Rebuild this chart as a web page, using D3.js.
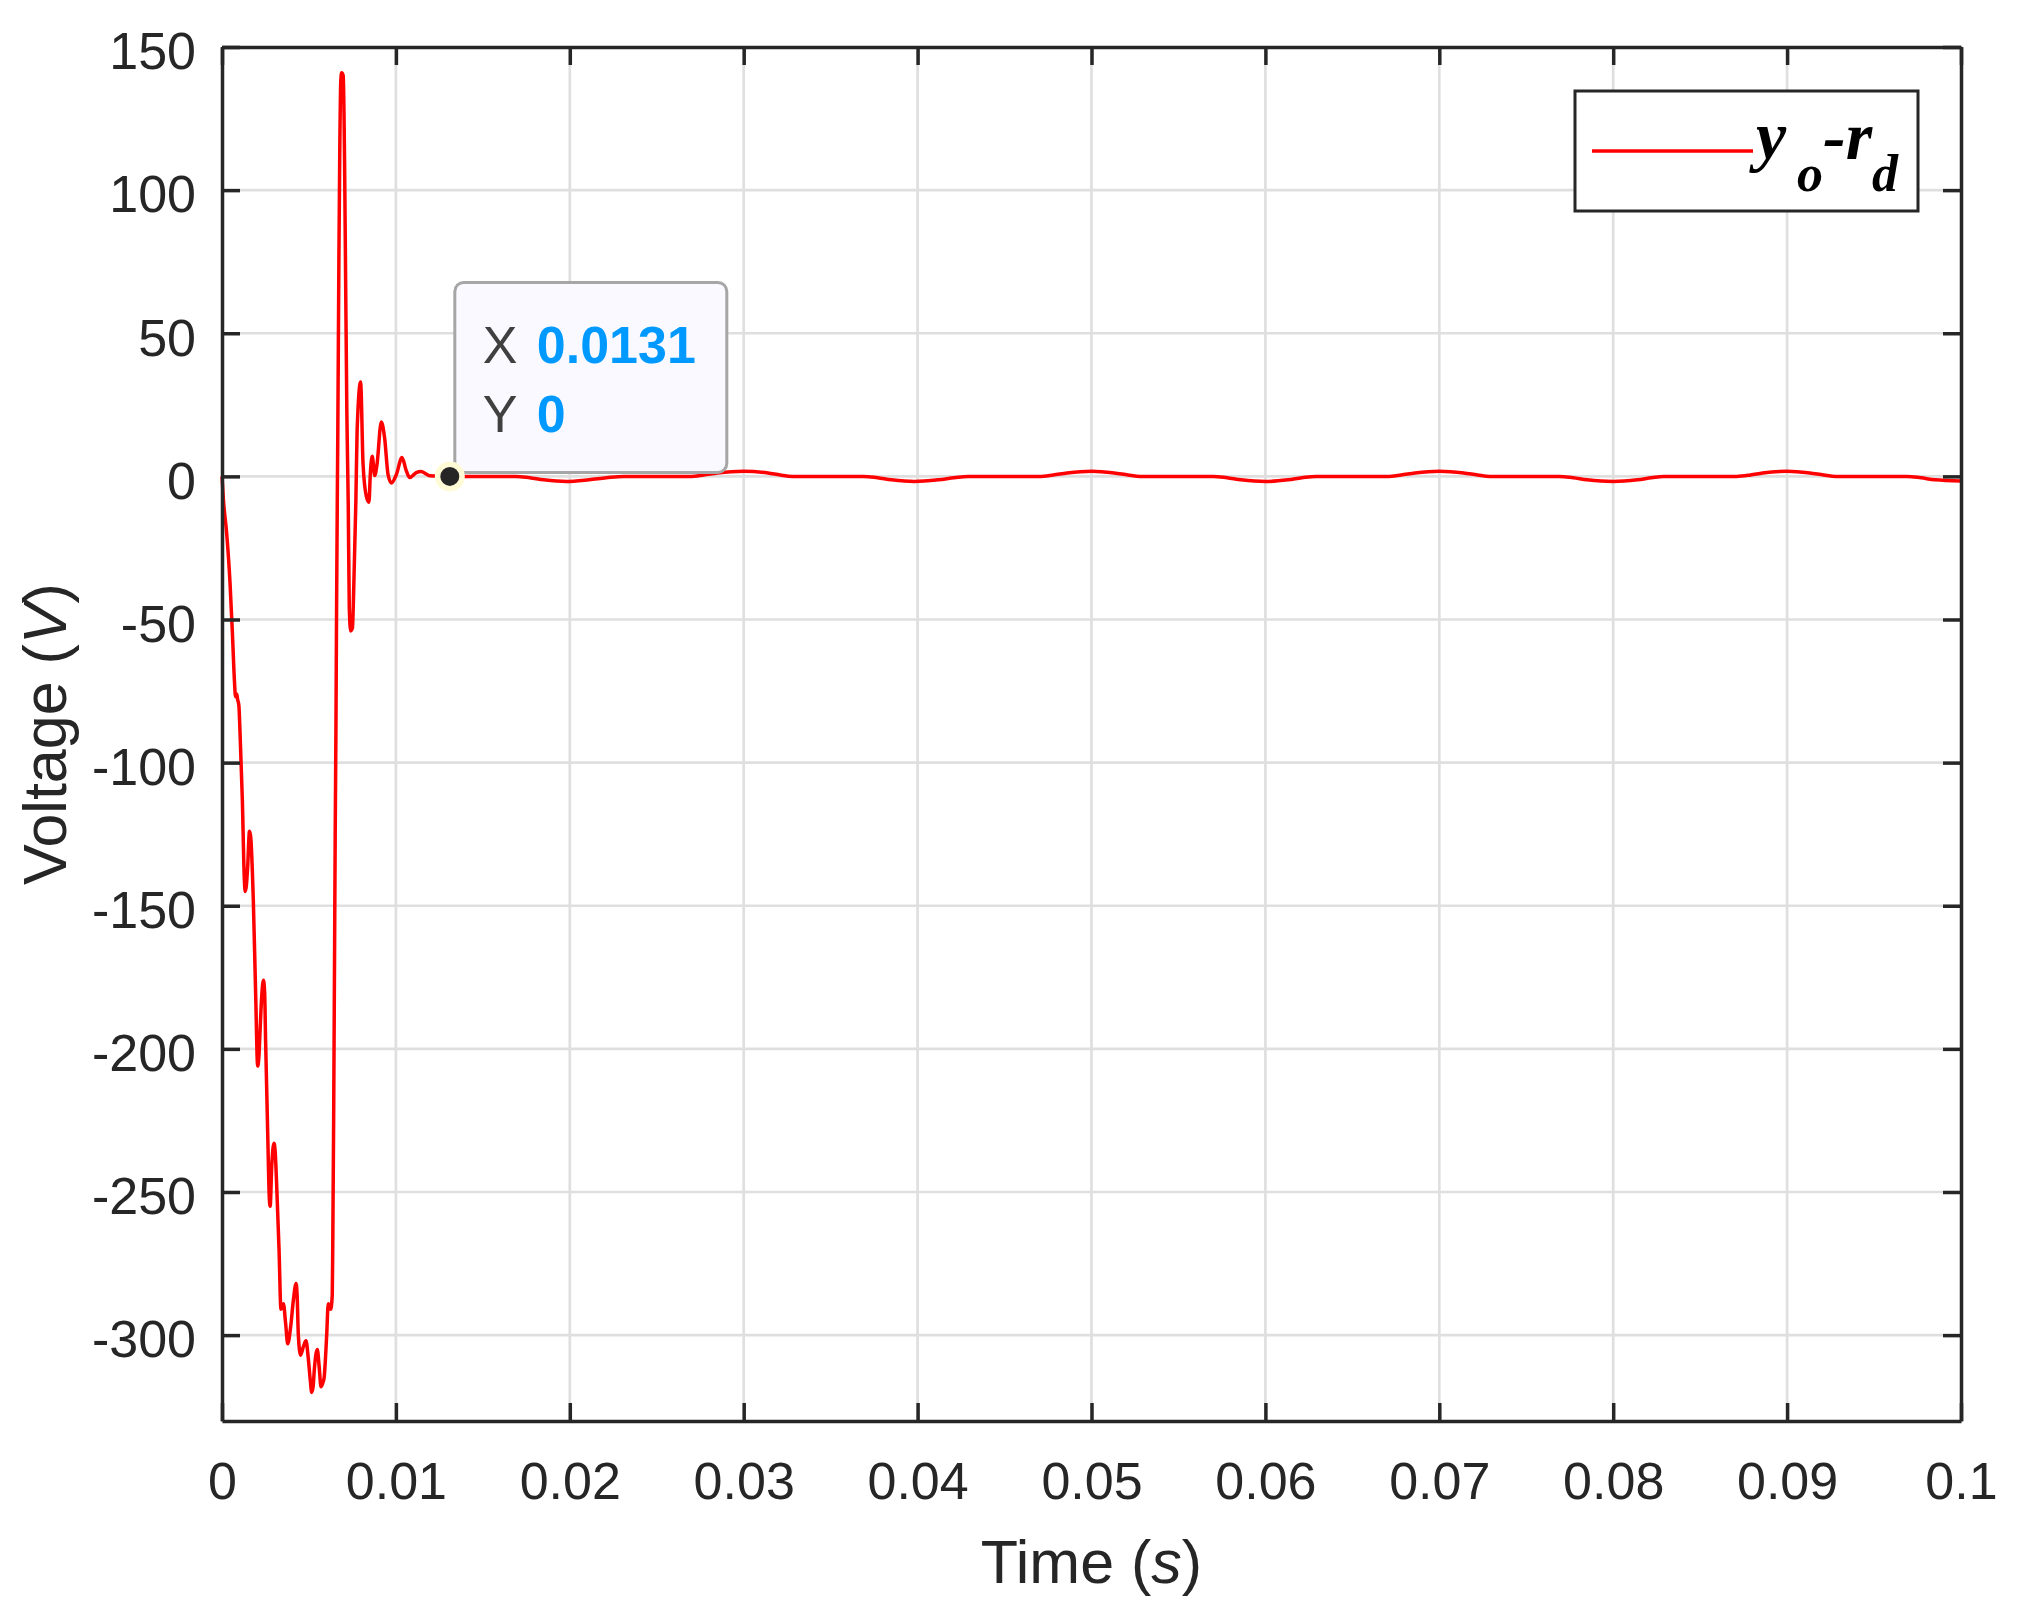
<!DOCTYPE html>
<html>
<head>
<meta charset="utf-8">
<script src="https://d3js.org/d3.v7.min.js"></script>
<style>
  body { margin: 0; background: #ffffff; }
  svg { display: block; }
  .axis text { font-family: "Liberation Sans", Arial, sans-serif; font-size: 52px; fill: #262626; }
  .axis path, .axis line { stroke: #262626; stroke-width: 3.5; }
  .grid line { stroke: #dfdfdf; stroke-width: 2.7; }
  .label { font-family: "Liberation Sans", Arial, sans-serif; font-size: 61px; fill: #262626; }
</style>
</head>
<body>
<script>

// tick values on both axes
var xTicks = [0, 0.01, 0.02, 0.03, 0.04, 0.05, 0.06, 0.07, 0.08, 0.09, 0.1]
var yTicks = [150, 100, 50, 0, -50, -100, -150, -200, -250, -300]
var xTickLabels = ["0", "0.01", "0.02", "0.03", "0.04", "0.05", "0.06", "0.07", "0.08", "0.09", "0.1"]
var yTickLabels = ["150", "100", "50", "0", "-50", "-100", "-150", "-200", "-250", "-300"]

// start-up transient of y_o - r_d (time in s, voltage in V)
var transientTime = [0, 0.00008, 0.00027, 0.00046, 0.0006, 0.00072, 0.00078, 0.00085, 0.0009, 0.00097,
  0.00104, 0.00117, 0.00128, 0.00133, 0.0014, 0.00148, 0.00158, 0.00165, 0.0018, 0.00194,
  0.00205, 0.00212, 0.00218, 0.00228, 0.00238, 0.00245, 0.00251, 0.00263, 0.00272, 0.00277,
  0.00286, 0.00299, 0.00306, 0.00314, 0.00328, 0.00339, 0.00347, 0.00353, 0.00366, 0.00378,
  0.00395, 0.0041, 0.00426, 0.00432, 0.00439, 0.00452, 0.00468, 0.00483, 0.00496, 0.00508,
  0.00516, 0.00524, 0.00531, 0.00548, 0.0056, 0.00569, 0.00578, 0.00587, 0.00602, 0.00611,
  0.00625, 0.00634, 0.00637, 0.00642, 0.00647, 0.00651, 0.00655, 0.00659, 0.00663, 0.00666,
  0.00672, 0.00677, 0.00683, 0.00688, 0.00697, 0.00705, 0.00711, 0.00718, 0.00726, 0.00732,
  0.0074, 0.0075, 0.00758, 0.0077, 0.00777, 0.00797, 0.00811, 0.0083, 0.00845, 0.00853,
  0.00864, 0.00878, 0.00891, 0.00916, 0.00935, 0.00955, 0.00974, 0.01003, 0.01035, 0.0106,
  0.01079, 0.01117, 0.01146, 0.01194, 0.0131]
var transientVolt = [0, -8, -20, -37, -55, -72, -77, -76, -78, -80,
  -90, -113, -140, -145, -143, -136, -124, -126, -148, -182,
  -206, -203, -195, -182, -176, -180, -198, -230, -252, -255,
  -241, -233, -236, -247, -270, -291, -290, -289, -296, -303,
  -297, -288, -282, -286, -300, -307, -304, -302, -308, -316,
  -320, -318, -312, -305, -312, -318, -317, -315, -300, -289,
  -291, -286, -268, -225, -170, -125, -90, -45, -8, 16,
  74, 112, 138, 141, 140, 109, 68, 22, -10, -46,
  -54, -53, -38, -8, 16, 33, 4.5, -7, -9, 1,
  7, 0.3, 4, 19, 13.5, 0.6, -2.3, 0.7, 6.6, 1.9,
  -0.4, 1.3, 1.7, 0.2, 0]

// small ripple that stays after the transient
var steadyTime = [0.0169, 0.0177, 0.0185, 0.0198, 0.0211, 0.0221, 0.0231,
  0.0269, 0.0277, 0.0285, 0.03, 0.0314, 0.0321, 0.0328,
  0.0369, 0.0377, 0.0385, 0.0398, 0.0412, 0.0421, 0.0429,
  0.047, 0.0478, 0.0486, 0.05, 0.0513, 0.0521, 0.0528,
  0.057, 0.0578, 0.0586, 0.06, 0.0613, 0.0621, 0.0629,
  0.067, 0.0678, 0.0686, 0.07, 0.0714, 0.0722, 0.0729,
  0.0769, 0.0777, 0.0785, 0.08, 0.0814, 0.0822, 0.0829,
  0.0871, 0.0879, 0.0886, 0.09, 0.0913, 0.0921, 0.0928,
  0.0969, 0.0977, 0.0985, 0.1]
var steadyVolt = [0, -0.5, -1.2, -1.8, -1.2, -0.5, 0,
  0, 0.5, 1.2, 1.8, 1.2, 0.5, 0,
  0, -0.5, -1.2, -1.8, -1.2, -0.5, 0,
  0, 0.5, 1.2, 1.8, 1.2, 0.5, 0,
  0, -0.5, -1.2, -1.8, -1.2, -0.5, 0,
  0, 0.5, 1.2, 1.8, 1.2, 0.5, 0,
  0, -0.5, -1.2, -1.8, -1.2, -0.5, 0,
  0, 0.5, 1.2, 1.8, 1.2, 0.5, 0,
  0, -0.5, -1.2, -1.6]

// data tip values
var tipX = 0.0131
var tipY = 0

// set width and height for svg
var w = 2025
var h = 1606
var plotLeft = 222, plotRight = 1961, plotTop = 47, plotBottom = 1421

var svg = d3.select("body")
  .append("svg")
  .attr("width", w)
  .attr("height", h)

// create scales
var xScale = d3.scaleLinear()
  .domain([0, 0.1])
  .range([plotLeft, plotRight])

var yScale = d3.scaleLinear()
  .domain([-330, 150])
  .range([plotBottom, plotTop])

// grid lines
svg.append("g")
  .attr("class", "grid")
  .selectAll("line")
  .data(xTicks.slice(1, -1))
  .enter().append("line")
  .attr("x1", function(d) { return xScale(d) })
  .attr("x2", function(d) { return xScale(d) })
  .attr("y1", plotTop)
  .attr("y2", plotBottom)

svg.append("g")
  .attr("class", "grid")
  .selectAll("line")
  .data(yTicks.slice(1))
  .enter().append("line")
  .attr("x1", plotLeft)
  .attr("x2", plotRight)
  .attr("y1", function(d) { return yScale(d) })
  .attr("y2", function(d) { return yScale(d) })

// build the line data
var points = []
for (var i = 0; i < transientTime.length; i++) {
  points.push([transientTime[i], transientVolt[i]])
}
for (var j = 0; j < steadyTime.length; j++) {
  points.push([steadyTime[j], steadyVolt[j]])
}

var line = d3.line()
  .x(function(d) { return xScale(d[0]) })
  .y(function(d) { return yScale(d[1]) })
  .curve(d3.curveMonotoneX)

svg.append("path")
  .datum(points)
  .attr("fill", "none")
  .attr("stroke", "#ff0000")
  .attr("stroke-width", 3.5)
  .attr("stroke-linejoin", "round")
  .attr("d", line)

// create axes (ticks point inward, box on all four sides)
svg.append("g")
  .attr("class", "axis")
  .attr("transform", "translate(0," + plotBottom + ")")
  .call(d3.axisBottom(xScale).tickValues(xTicks)
    .tickFormat(function(d, i) { return xTickLabels[i] })
    .tickSize(-18).tickSizeOuter(0).tickPadding(41))

svg.append("g")
  .attr("class", "axis")
  .attr("transform", "translate(" + plotLeft + ",0)")
  .call(d3.axisLeft(yScale).tickValues(yTicks)
    .tickFormat(function(d, i) { return yTickLabels[i] })
    .tickSize(-18).tickSizeOuter(0).tickPadding(26))
  .selectAll("text").attr("dy", "0.42em")

svg.append("g")
  .attr("class", "axis")
  .attr("transform", "translate(0," + plotTop + ")")
  .call(d3.axisTop(xScale).tickValues(xTicks).tickFormat("")
    .tickSize(-18).tickSizeOuter(0))

svg.append("g")
  .attr("class", "axis")
  .attr("transform", "translate(" + plotRight + ",0)")
  .call(d3.axisRight(yScale).tickValues(yTicks).tickFormat("")
    .tickSize(-18).tickSizeOuter(0))

// axis labels
var xl = svg.append("text")
  .attr("class", "label")
  .attr("x", (plotLeft + plotRight) / 2)
  .attr("y", 1583)
  .attr("text-anchor", "middle")
xl.append("tspan").text("Time (")
xl.append("tspan").attr("font-style", "italic").text("s")
xl.append("tspan").text(")")

var yl = svg.append("text")
  .attr("class", "label")
  .attr("transform", "translate(66," + ((plotTop + plotBottom) / 2) + ") rotate(-90)")
  .attr("text-anchor", "middle")
yl.append("tspan").text("Voltage (")
yl.append("tspan").attr("font-style", "italic").text("V")
yl.append("tspan").text(")")

// legend
svg.append("rect")
  .attr("x", 1575)
  .attr("y", 91)
  .attr("width", 343)
  .attr("height", 120)
  .attr("fill", "#ffffff")
  .attr("stroke", "#262626")
  .attr("stroke-width", 3)

svg.append("line")
  .attr("x1", 1592)
  .attr("x2", 1753)
  .attr("y1", 151)
  .attr("y2", 151)
  .attr("stroke", "#ff0000")
  .attr("stroke-width", 3.5)

var lg = svg.append("text")
  .attr("font-family", "'Liberation Serif', 'Times New Roman', serif")
  .attr("font-weight", "bold")
  .attr("font-style", "italic")
  .attr("fill", "#000000")
lg.append("tspan").attr("x", 1756).attr("y", 159).attr("font-size", 68).text("y")
lg.append("tspan").attr("x", 1797).attr("y", 191).attr("font-size", 52).text("o")
lg.append("tspan").attr("x", 1823).attr("y", 159).attr("font-size", 68).text("-r")
lg.append("tspan").attr("x", 1872).attr("y", 191).attr("font-size", 52).text("d")

// data tip
var px = xScale(tipX), py = yScale(tipY)

svg.append("rect")
  .attr("x", px + 5)
  .attr("y", py - 194)
  .attr("width", 272)
  .attr("height", 190)
  .attr("rx", 9)
  .attr("fill", "#f9f9ff")
  .attr("stroke", "#a6a6a6")
  .attr("stroke-width", 3)

var tipFont = "'Liberation Sans', Arial, sans-serif"
svg.append("text").attr("x", px + 33).attr("y", py - 113)
  .attr("font-family", tipFont).attr("font-size", 52).attr("fill", "#404040").text("X")
svg.append("text").attr("x", px + 87).attr("y", py - 113)
  .attr("font-family", tipFont).attr("font-size", 52).attr("font-weight", "bold")
  .attr("fill", "#0099ff").text(tipX.toString())
svg.append("text").attr("x", px + 33).attr("y", py - 44)
  .attr("font-family", tipFont).attr("font-size", 52).attr("fill", "#404040").text("Y")
svg.append("text").attr("x", px + 87).attr("y", py - 44)
  .attr("font-family", tipFont).attr("font-size", 52).attr("font-weight", "bold")
  .attr("fill", "#0099ff").text(tipY.toString())

// marker at the tip point
svg.append("circle")
  .attr("cx", px).attr("cy", py).attr("r", 15)
  .attr("fill", "#fffbd6")
svg.append("circle")
  .attr("cx", px).attr("cy", py).attr("r", 9.5)
  .attr("fill", "#262626")

</script>
</body>
</html>
